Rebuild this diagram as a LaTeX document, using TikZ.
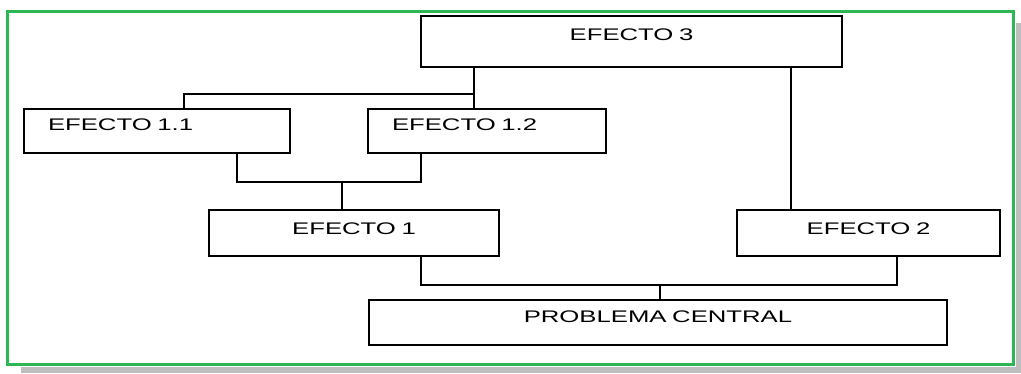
\documentclass[tikz,border=0pt]{standalone}
\usepackage{fontspec}
\setmainfont{Liberation Sans}[FakeStretch=1.53]
\definecolor{marco}{RGB}{44,182,84}
\definecolor{sombra}{RGB}{190,190,190}
\tikzset{
  caja/.style={shape=rectangle,draw=black,line width=1.6pt,inner ysep=0pt,
    font=\fontsize{16.8}{20}\selectfont,anchor=base},
  centrada/.style={caja,inner xsep=0pt,align=center},
  izquierda/.style={caja,inner xsep=24pt,align=left},
  linea/.style={draw=black,line width=1.6pt}
}
\begin{document}
\begin{tikzpicture}[x=1pt,y=-1pt]
      \useasboundingbox (0,0) rectangle (1021,373);
      % sombra y marco
      \fill[sombra] (21,23) rectangle (1021,373);
      \fill[white] (5,9) rectangle (1016,367);
      \draw[marco,line width=3pt] (7,11) rectangle (1013,364);

      \node[centrada,text width=421pt,text height=24pt,text depth=27pt] (e3) at (631.5,40) {EFECTO 3};
      \node[izquierda,text width=218pt,text height=21pt,text depth=23pt] (e11) at (157,130) {EFECTO 1.1};
      \node[izquierda,text width=190pt,text height=21pt,text depth=23pt] (e12) at (487,130) {EFECTO 1.2};
      \node[centrada,text width=290pt,text height=24pt,text depth=22pt] (e1) at (354,234) {EFECTO 1};
      \node[centrada,text width=263pt,text height=24pt,text depth=22pt] (e2) at (868.5,234) {EFECTO 2};
      \node[centrada,text width=578pt,text height=22pt,text depth=23pt] (pc) at (658,322) {PROBLEMA CENTRAL};

      % uniones
      \coordinate (t3) at (474,94);
      \coordinate (t11) at (184,94);
      \coordinate (a11) at (237,182);
      \coordinate (a12) at (421,182);
      \coordinate (j1) at (342,182);
      \coordinate (k2) at (791,150);
      \coordinate (b1) at (421,285);
      \coordinate (b2) at (897,285);
      \coordinate (bp) at (660,285);

      \path[linea] (e3.south -| t3) -- (e12.north -| t3);
      \path[linea] (e11.north -| t11) -- (t11) -- (t3);
      \path[linea] (e11.south -| a11) -- (a11) -- (a12) -- (e12.south -| a12);
      \path[linea] (j1) -- (e1.north -| j1);
      \path[linea] (e3.south -| k2) -- (e2.north -| k2);
      \path[linea] (e1.south -| b1) -- (b1) -- (b2) -- (e2.south -| b2);
      \path[linea] (bp) -- (pc.north -| bp);
  \end{tikzpicture}
\end{document}
